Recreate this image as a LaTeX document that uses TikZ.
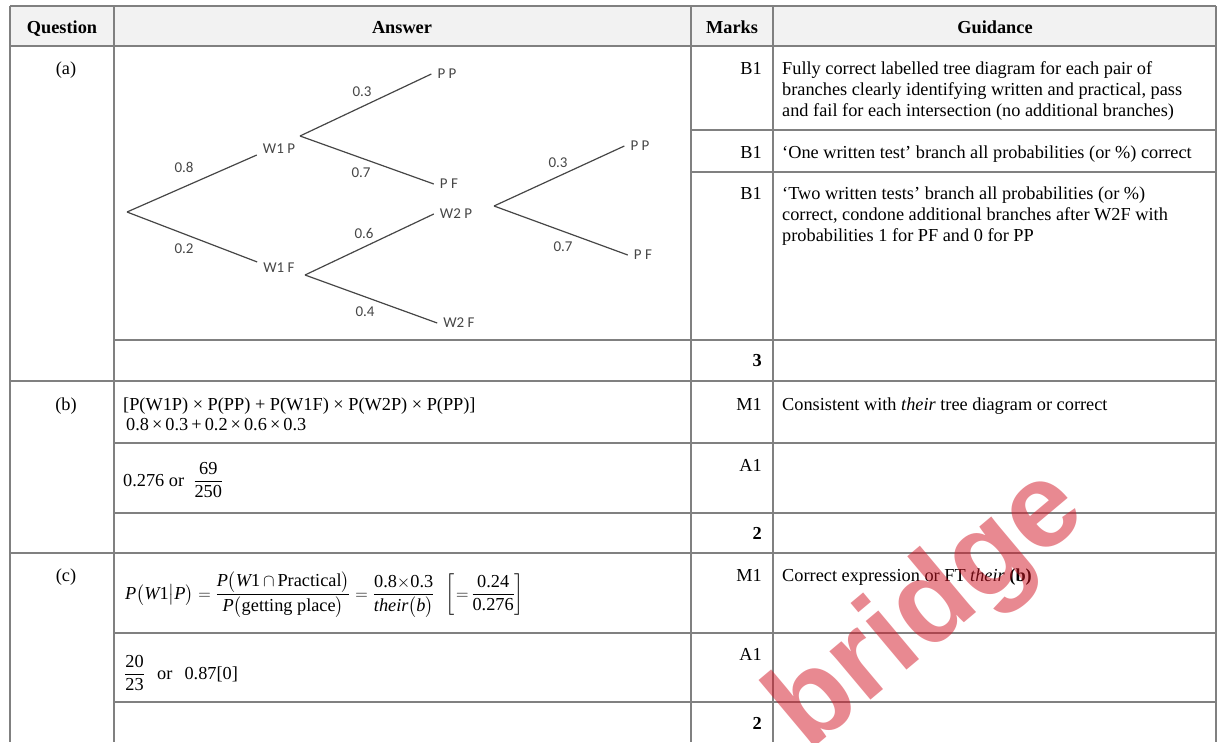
\documentclass[tikz,border=0pt]{standalone}
\usepackage{amsmath}
\usepackage{fontspec}
\setmainfont{Liberation Serif}
\newfontfamily\treefont{Carlito}
\newfontfamily\wmfont{Liberation Sans}
\usetikzlibrary{positioning}
\definecolor{rulegray}{RGB}{128,128,128}
\definecolor{headfill}{RGB}{242,242,242}
\definecolor{treegray}{RGB}{70,70,70}
\definecolor{wmred}{RGB}{210,20,35}

\begin{document}
\begin{tikzpicture}[
  x=1pt, y=-1pt,
  rule/.style={draw=rulegray, line width=1.3pt},
  txt/.style={font=\fontsize{18.3}{21}\selectfont, inner sep=0pt},
  head/.style={txt, font=\fontsize{18.3}{21}\selectfont\bfseries, anchor=base},
  qlabel/.style={txt, anchor=base},
  markcell/.style={txt, anchor=base east},
  guide/.style={txt, anchor=north west, align=left},
  answer/.style={txt, anchor=base west},
  branch/.style={draw=treegray, line width=1.2pt},
  leaf/.style={font=\treefont\fontsize{15}{17}\selectfont, text=treegray, inner xsep=6pt, inner ysep=1pt},
  prob/.style={font=\treefont\fontsize{15}{17}\selectfont, text=treegray, inner sep=0pt},
  wm/.style={font=\wmfont\bfseries\fontsize{120}{120}\selectfont, text=wmred, text opacity=0.5, anchor=base, inner sep=0pt},
]
\useasboundingbox (0,0) rectangle (1218,742);

% --- Header row ---
\fill[headfill] (10,6) rectangle (1216,46);
\node[head] (hquestion) at (62,33) {Question};
\node[head] (hanswer) at (402,33) {Answer};
\node[head] (hmarks) at (732,33) {Marks};
\node[head] (hguidance) at (995,33) {Guidance};

% --- Tree diagram (a) ---
\coordinate (root) at (127,212);
\node[leaf] (w1p) at (279,149) {W1 P};
\node[leaf] (w1f) at (279,268) {W1 F};
\coordinate (w1pfork) at (300,136);
\coordinate (w1ffork) at (305,275);
\node[leaf] (pp1) at (447,74) {P P};
\node[leaf] (pf1) at (449,184) {P F};
\node[leaf] (w2p) at (456,214) {W2 P};
\node[leaf] (w2f) at (459,323) {W2 F};
\coordinate (w2pfork) at (494,206);
\node[leaf] (pp2) at (640,146) {P P};
\node[leaf] (pf2) at (643,255) {P F};

\draw[branch] (root) -- (w1p.south west);
\draw[branch] (root) -- (w1f.north west);
\draw[branch] (w1pfork) -- (pp1.west);
\draw[branch] (w1pfork) -- (pf1.west);
\draw[branch] (w1ffork) -- (w2p.west);
\draw[branch] (w1ffork) -- (w2f.west);
\draw[branch] (w2pfork) -- (pp2.west);
\draw[branch] (w2pfork) -- (pf2.west);

\node[prob] (pw1p) at (184,167) {0.8};
\node[prob] (pw1f) at (184,249) {0.2};
\node[prob] (ppp1) at (362,92) {0.3};
\node[prob] (ppf1) at (361,173) {0.7};
\node[prob] (pw2p) at (364,233) {0.6};
\node[prob] (pw2f) at (365,312) {0.4};
\node[prob] (ppp2) at (558,163) {0.3};
\node[prob] (ppf2) at (563,247) {0.7};

% --- Part (a) marks ---
\node[qlabel] (qa) at (66,74) {(a)};
\node[markcell] (ma1) at (762,74) {B1};
\node[guide] (ga1) at (782,61.5) {Fully correct labelled tree diagram for each pair of\\branches clearly identifying written and practical, pass\\and fail for each intersection (no additional branches)};
\node[markcell] (ma2) at (762,158) {B1};
\node[guide] (ga2) at (782,145.3) {‘One written test’ branch all probabilities (or \%) correct};
\node[markcell] (ma3) at (762,199) {B1};
\node[guide] (ga3) at (782,186.3) {‘Two written tests’ branch all probabilities (or \%)\\correct, condone additional branches after W2F with\\probabilities 1 for PF and 0 for PP};
\node[markcell, font=\fontsize{18.3}{21}\selectfont\bfseries] (ma4) at (762,366) {3};

% --- Part (b) ---
\node[qlabel] (qb) at (66,410) {(b)};
\node[answer] (ab1) at (123,410) {[P(W1P) × P(PP) + P(W1F) × P(W2P) × P(PP)]};
\node[answer] (ab2) at (126,430) {0.8\,×\,0.3\,+\,0.2\,×\,0.6\,×\,0.3};
\node[markcell] (mb1) at (762,410) {M1};
\node[answer] (gb1) at (782,410) {Consistent with \textit{their} tree diagram or correct};
\node[answer] (ab3) at (123,486) {0.276 or \ $\dfrac{\text{69}}{\text{250}}$};
\node[markcell] (mb2) at (762,471) {A1};
\node[markcell, font=\fontsize{18.3}{21}\selectfont\bfseries] (mb3) at (762,539) {2};

% --- Part (c) ---
\node[qlabel] (qc) at (66,581) {(c)};
\node[answer] (ac1) at (125,599) {$\mathit{P}\bigl(\mathit{W}\text{1}\big|\mathit{P}\bigr)\mskip5mu{=}\mskip5mu\dfrac{\mathit{P}\bigl(\mathit{W}\text{1}\,{\cap}\,\text{Practical}\bigr)}{\mathit{P}\bigl(\text{getting place}\bigr)}\mskip5mu{=}\mskip5mu\dfrac{\text{0.8}{\times}\text{0.3}}{\textit{their}\bigl(\mathit{b}\bigr)}\ \,\left[\mskip2mu{=}\mskip3mu\dfrac{\text{0.24}}{\text{0.276}}\right]$};
\node[markcell] (mc1) at (762,581) {M1};
\node[answer] (gc1) at (782,581) {Correct expression or FT \textit{their} \textbf{(b)}};
\node[answer] (ac2) at (124,679) {$\dfrac{\text{20}}{\text{23}}$ \ \,or \ \,0.87[0]};
\node[markcell] (mc2) at (762,660) {A1};
\node[markcell, font=\fontsize{18.3}{21}\selectfont\bfseries] (mc3) at (762,729) {2};

% --- Table rules ---
\draw[rule] (10,6) -- (1216,6);
\draw[rule] (10,46) -- (1216,46);
\draw[rule] (691,130) -- (1216,130);
\draw[rule] (691,172) -- (1216,172);
\draw[rule] (114,340) -- (1216,340);
\draw[rule] (10,381) -- (1216,381);
\draw[rule] (114,443) -- (1216,443);
\draw[rule] (114,513) -- (1216,513);
\draw[rule] (10,553) -- (1216,553);
\draw[rule] (114,633) -- (1216,633);
\draw[rule] (114,702) -- (1216,702);
\foreach \x in {10,114,691,773,1216}
  \draw[rule] (\x,6) -- (\x,742);

% --- Watermark ---
\begin{scope}
\clip (0,0) rectangle (1218,742);
\node[wm, rotate=40] (wmark) at (949,635) {bridge};
\end{scope}

\end{tikzpicture}
\end{document}
